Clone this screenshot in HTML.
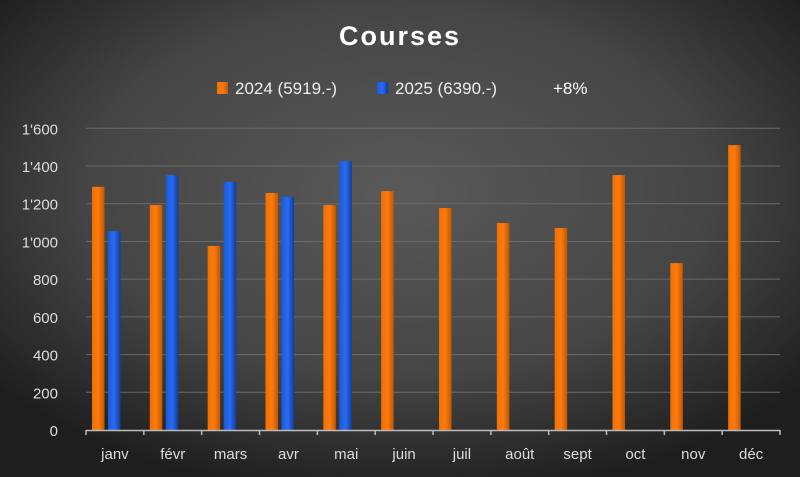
<!DOCTYPE html>
<html><head><meta charset="utf-8"><style>
body{margin:0;width:800px;height:477px;overflow:hidden;background:#222}
svg{display:block;font-family:"Liberation Sans",sans-serif}
</style></head><body>
<svg id="chart" width="800" height="477">
<defs>
<radialGradient id="bg" cx="50%" cy="40%" r="65%">
<stop offset="0" stop-color="#595959"/><stop offset="0.6" stop-color="#454545"/><stop offset="1" stop-color="#1e1e1e"/>
</radialGradient>
<linearGradient id="og" x1="0" x2="1"><stop offset="0" stop-color="#f07000"/><stop offset="0.5" stop-color="#ff7a10"/><stop offset="1" stop-color="#c05800"/></linearGradient>
<linearGradient id="bgb" x1="0" x2="1"><stop offset="0" stop-color="#1a5ad8"/><stop offset="0.5" stop-color="#2a6af0"/><stop offset="1" stop-color="#123c9a"/></linearGradient>
</defs>
<rect width="800" height="477" fill="url(#bg)"/>
<text x="400" y="45" text-anchor="middle" fill="#fff" font-size="27" font-weight="bold" letter-spacing="2">Courses</text>
<g>
<rect x="217" y="82" width="11" height="12" fill="url(#og)"/>
<text x="235" y="94" fill="#eee" font-size="17">2024 (5919.-)</text>
<rect x="377" y="82" width="11" height="12" fill="url(#bgb)"/>
<text x="395" y="94" fill="#eee" font-size="17">2025 (6390.-)</text>
<text x="553" y="94" fill="#fff" font-size="17">+8%</text>
</g>
<g id="grid"></g><g id="bars"></g><g id="axes"></g>
</svg>
<script>
const categories=["janv","févr","mars","avr","mai","juin","juil","août","sept","oct","nov","déc"];
const series2024=[1290,1193,976,1257,1193,1267,1177,1098,1071,1352,885,1511];
const series2025=[1055,1352,1315,1237,1426,null,null,null,null,null,null,null];
const yTicks=[0,200,400,600,800,1000,1200,1400,1600];
const yTickLabels=["0","200","400","600","800","1'000","1'200","1'400","1'600"];
const NS="http://www.w3.org/2000/svg";
const x0=86,x1=780,y0=430,yTop=128.3,yMax=1600;
const cw=(x1-x0)/categories.length;
const y=v=>y0-(v/yMax)*(y0-yTop);
const xc=i=>x0+i*cw;
function mk(tag,attrs,parent){const e=document.createElementNS(NS,tag);for(const k in attrs)e.setAttribute(k,attrs[k]);parent.appendChild(e);return e;}
const grid=document.getElementById('grid'),bars=document.getElementById('bars'),axes=document.getElementById('axes');
yTicks.forEach((t,i)=>{
  if(t>0){const l=mk('line',{x1:x0,x2:x1,y1:y(t),y2:y(t),stroke:'#6a6a6a','stroke-width':1},grid);
  
  }
  const tx=mk('text',{x:58,y:y(t)+6,'text-anchor':'end',fill:'#ddd','font-size':15},axes);
  tx.textContent=yTickLabels[i];
  
  
});
const ax=mk('line',{x1:x0,x2:x1,y1:y0+0.5,y2:y0+0.5,stroke:'#bbb','stroke-width':1.5},axes);


categories.forEach((c,i)=>{
  const tk=mk('line',{x1:xc(i),x2:xc(i),y1:y0,y2:y0+5,stroke:'#bbb','stroke-width':1.5},axes);
  
  
  const t=mk('text',{x:xc(i)+cw/2,y:y0+29,'text-anchor':'middle',fill:'#ddd','font-size':15},axes);
  t.textContent=c;
  
  
  const bw=12.5;
  if(series2024[i]!=null){const b=mk('rect',{x:xc(i)+6,y:y(series2024[i]),width:bw,height:y0-y(series2024[i]),fill:'url(#og)'},bars);
  
  }
  if(series2025[i]!=null){const b=mk('rect',{x:xc(i)+22,y:y(series2025[i]),width:bw,height:y0-y(series2025[i]),fill:'url(#bgb)'},bars);
  
  }
});
const last=mk('line',{x1:x1,x2:x1,y1:y0,y2:y0+5,stroke:'#bbb','stroke-width':1.5},axes);


</script>
</body></html>
